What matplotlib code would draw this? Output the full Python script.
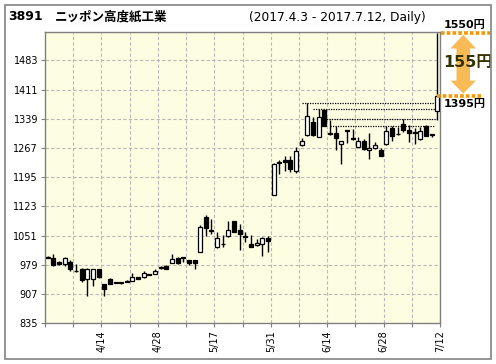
import numpy as np
import matplotlib.pyplot as plt
from matplotlib.patches import Rectangle, Polygon
from matplotlib.transforms import blended_transform_factory

plt.rcParams['font.family'] = ['DejaVu Sans', 'Noto Sans CJK JP']

code = "3891"
name = "ニッポン高度紙工業"
period = "(2017.4.3 - 2017.7.12, Daily)"

opens = [999, 995, 986, 982, 985, 964, 970, 943, 943, 968,
         931, 945, 937, 936, 937, 940, 948, 948, 956, 957,
         972, 977, 984, 997, 998, 991, 991, 1011, 1097, 1064,
         1022, 1031, 1049, 1088, 1065, 1049, 1030, 1027, 1030, 1046,
         1152, 1230, 1237, 1237, 1211, 1274, 1298, 1330, 1294, 1360,
         1303, 1304, 1276, 1312, 1291, 1270, 1284, 1262, 1266, 1262,
         1276, 1317, 1302, 1325, 1311, 1306, 1288, 1322, 1302, 1358]
highs = [1001, 1006, 988, 998, 991, 981, 972, 971, 969, 969,
         932, 946, 937, 937, 942, 958, 950, 965, 957, 969,
         976, 978, 1006, 998, 998, 992, 992, 1077, 1101, 1091,
         1059, 1052, 1088, 1088, 1079, 1059, 1052, 1042, 1047, 1050,
         1230, 1237, 1248, 1248, 1270, 1292, 1379, 1343, 1362, 1362,
         1337, 1321, 1285, 1312, 1313, 1294, 1290, 1303, 1282, 1266,
         1321, 1321, 1318, 1339, 1323, 1317, 1319, 1323, 1302, 1550]
lows = [995, 976, 978, 975, 964, 962, 937, 902, 927, 947,
        902, 931, 934, 932, 936, 939, 943, 946, 953, 956,
        969, 969, 983, 982, 985, 978, 970, 1010, 1051, 1054,
        1020, 1022, 1048, 1060, 1015, 1036, 1024, 1026, 1001, 1011,
        1151, 1204, 1211, 1208, 1206, 1273, 1297, 1297, 1293, 1320,
        1298, 1263, 1227, 1279, 1286, 1269, 1262, 1239, 1265, 1247,
        1275, 1284, 1300, 1307, 1282, 1278, 1287, 1296, 1294, 1335]
closes = [996, 978, 982, 995, 968, 963, 942, 970, 968, 948,
          919, 931, 935, 934, 939, 948, 945, 959, 955, 964,
          973, 970, 993, 983, 996, 984, 983, 1073, 1070, 1062,
          1044, 1030, 1065, 1061, 1054, 1047, 1024, 1033, 1046, 1039,
          1228, 1232, 1233, 1215, 1260, 1284, 1345, 1300, 1343, 1321,
          1301, 1292, 1284, 1310, 1289, 1284, 1264, 1268, 1274, 1248,
          1309, 1297, 1301, 1312, 1303, 1304, 1309, 1297, 1300, 1395]

# resistance lines: level and the day it was set
res_levels = [1379, 1362, 1338, 1322]
res_start = [46, 48, 50, 51]

yticks = [835, 907, 979, 1051, 1123, 1195, 1267, 1339, 1411, 1483]
date_labels = ["4/14", "4/28", "5/17", "5/31", "6/14", "6/28", "7/12"]
date_pos = [9.5, 19.5, 29.5, 39.5, 49.5, 59.5, 69.5]

o = np.array(opens); h = np.array(highs); l = np.array(lows); c = np.array(closes)
x = np.arange(len(o))

fig = plt.figure(figsize=(4.96, 3.64), dpi=100)
ax = fig.add_axes([45/496, 1 - 323.3/364, 395/496, 291/364])
ax.set_facecolor('#FDFDE2')

up = c >= o
ax.vlines(x, l, h, color='black', lw=1, zorder=3)
ax.bar(x[up], c[up] - o[up], bottom=o[up], width=0.7, color='white',
       edgecolor='black', lw=0.9, zorder=4)
ax.bar(x[~up], c[~up] - o[~up], bottom=o[~up], width=0.7, color='black',
       edgecolor='black', lw=0.9, zorder=4)

for lev, s in zip(res_levels, res_start):
    ax.hlines(lev, s - 1, len(o) - 1.3, colors='black', linestyles=(0, (1, 1)),
              lw=0.9, zorder=2)

ax.set_xlim(-0.5, len(o) - 0.5)
ax.set_ylim(835, 1552)
ax.set_yticks(yticks)
ticks = np.arange(-0.5, len(o), 5)
ax.set_xticks(ticks)
labels = [''] * len(ticks)
for d, p in zip(date_labels, date_pos):
    labels[int(round((p + 0.5) / 5))] = d
ax.set_xticklabels(labels, rotation=90, fontsize=7)
ax.tick_params(axis='y', labelsize=7, length=3, pad=2, color='#808080')
ax.tick_params(axis='x', length=3, pad=2, color='#808080')
ax.grid(True, color='#B8B8B8', linestyle=(0, (3, 2)), lw=0.8)
ax.set_axisbelow(True)
for sp in ax.spines.values():
    sp.set_color('#808080')
    sp.set_linewidth(1)

# right panel with the high / close range
ax2 = fig.add_axes([440/496, 1 - 323.3/364, 50/496, 291/364], sharey=ax)
ax2.axis('off')
tr = blended_transform_factory(ax2.transAxes, ax2.transData)
hi = h[-1]; cl = c[-1]
orange = '#F39800'
ax2.plot([0.02, 1.0], [hi, hi], transform=tr, color=orange, lw=2.6,
         linestyle=(0, (1, 0.6)), clip_on=False, solid_capstyle='butt')
ax2.plot([-0.07, 0.84], [cl, cl], transform=tr, color=orange, lw=2.6,
         linestyle=(0, (1, 0.6)), clip_on=False, solid_capstyle='butt')
hl = 38
pts = [(0.465, hi - 4), (0.21, hi - hl), (0.33, hi - hl), (0.33, cl + hl),
       (0.21, cl + hl), (0.465, cl + 6), (0.72, cl + hl), (0.60, cl + hl),
       (0.60, hi - hl), (0.72, hi - hl)]
ax2.add_patch(Polygon(pts, closed=True, transform=tr, facecolor='#F8BA55',
                      edgecolor='none', clip_on=False))
ax2.annotate(f"{hi}円", xy=(0.5, hi), xycoords=tr, xytext=(0, 2),
             textcoords='offset points', ha='center', va='bottom',
             fontsize=8, fontweight='bold', annotation_clip=False)
ax2.annotate(f"{cl}円", xy=(0.5, cl), xycoords=tr, xytext=(0, -2),
             textcoords='offset points', ha='center', va='top',
             fontsize=8, fontweight='bold', annotation_clip=False)
ax2.text(0.55, (hi + cl) / 2 + 4, f"{hi - cl}円", transform=tr, ha='center',
         va='center', fontsize=11.5, fontweight='bold', color='#333300',
         clip_on=False)

fig.text(8/496, 1 - 17/364, code, fontsize=9, fontweight='bold', va='center')
fig.text(55/496, 1 - 17/364, name, fontsize=9, fontweight='bold', va='center',
         family=['Noto Sans CJK JP', 'DejaVu Sans'])
fig.text(426/496, 1 - 17/364, period, fontsize=8.8, ha='right', va='center')

fig.add_artist(Rectangle((5/496, 5/364), 486/496, 354/364, transform=fig.transFigure,
                         fill=False, edgecolor='#8C8C8C', lw=1.3))

fig.savefig('out.png', dpi=100)
